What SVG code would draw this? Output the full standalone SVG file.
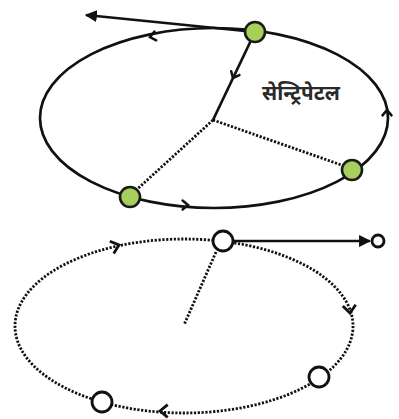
<svg xmlns="http://www.w3.org/2000/svg" width="399" height="419" viewBox="0 0 399 419">
  <style>
    .orbit { fill: none; stroke: #111; stroke-width: 2.7; }
    .dotted { fill: none; stroke: #111; stroke-width: 2.8; stroke-dasharray: 2.2 1.6; }
    .chev { fill: none; stroke: #111; stroke-width: 2.5; stroke-linecap: round; stroke-linejoin: miter; }
    .chevb { fill: none; stroke: #111; stroke-width: 2.8; stroke-linecap: butt; stroke-linejoin: miter; }
    .line { fill: none; stroke: #111; stroke-width: 2.7; }
    .green { fill: #a6cf5c; stroke: #1a1a1a; stroke-width: 2.6; }
    .hollow { fill: #fff; stroke: #111; stroke-width: 2.8; }
    .label { font-family: "Noto Sans Devanagari", "Lohit Devanagari", "Noto Sans", sans-serif; font-size: 20.5px; font-weight: bold; fill: #2a2a2a; }
  </style>
  <defs>
    <marker id="ah" viewBox="0 0 10 10" refX="9" refY="5" markerWidth="4.5" markerHeight="4.5" orient="auto" markerUnits="strokeWidth">
      <path d="M0,0 L10,5 L0,10 z" fill="#111"/>
    </marker>
  </defs>
  <rect width="399" height="419" fill="#fff"/>

  <g id="connectors">
    <!-- top diagram -->
    <ellipse class="orbit" cx="214" cy="118" rx="174" ry="90"/>
    <line class="line" x1="255" y1="32" x2="213" y2="120"/>
    <line class="dotted" x1="213" y1="120" x2="350" y2="168"/>
    <line class="dotted" x1="213" y1="120" x2="133" y2="193"/>
    <line class="line" x1="245" y1="31" x2="86" y2="15" marker-end="url(#ah)"/>
    <polyline class="chev" points="156.2,40.3 150,37 154.4,31.5"/>
    <polyline class="chev" points="382.5,115.4 387,110 391.5,115.4"/>
    <polyline class="chev" points="182.6,200.5 188,205 182.6,209.5"/>
    <polyline class="chev" points="239.4,75.1 233,78 231.2,71.2"/>
    <!-- bottom diagram -->
    <ellipse class="dotted" cx="184" cy="326" rx="169" ry="87"/>
    <line class="dotted" x1="216" y1="252" x2="184" y2="325"/>
    <line class="line" x1="233" y1="241" x2="370" y2="241" marker-end="url(#ah)"/>
    <polyline class="chevb" points="109.8,241.2 119,245 113.7,253.4"/>
    <polyline class="chevb" points="355.7,304.7 350,313 342.8,306"/>
    <polyline class="chevb" points="167.7,404.6 160,411 167.7,417.4"/>
  </g>

  <g id="label-centripetal">
    <text class="label" x="262" y="100">सेन्ट्रिपेटल</text>
  </g>

  <g id="node-top-a"><circle class="green" cx="255" cy="32" r="10"/></g>
  <g id="node-top-b"><circle class="green" cx="352" cy="170" r="10"/></g>
  <g id="node-top-c"><circle class="green" cx="130" cy="197" r="10"/></g>

  <g id="node-bottom-a"><circle class="hollow" cx="223" cy="241" r="10"/></g>
  <g id="node-bottom-b"><circle class="hollow" cx="319" cy="377" r="10"/></g>
  <g id="node-bottom-c"><circle class="hollow" cx="102" cy="402" r="10"/></g>
  <g id="node-bottom-tip"><circle class="hollow" cx="378" cy="241" r="6"/></g>
</svg>
